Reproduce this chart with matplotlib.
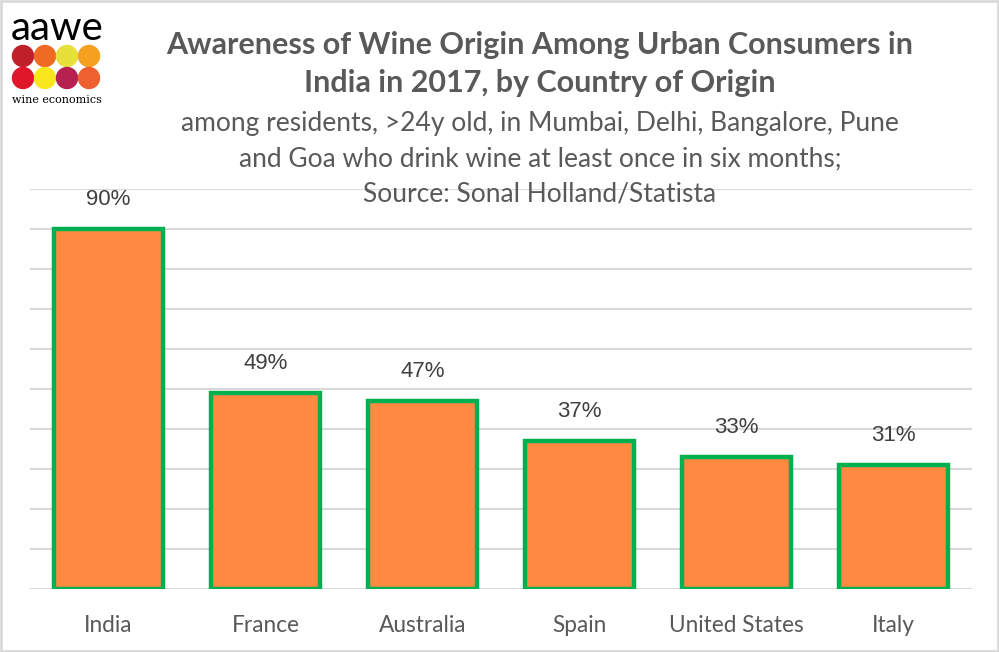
import numpy as np
import matplotlib.pyplot as plt
from matplotlib.patches import Ellipse, Rectangle

# data
countries = ['India', 'France', 'Australia', 'Spain', 'United States', 'Italy']
awareness = [90, 49, 47, 37, 33, 31]

title_lines = ['Awareness of Wine Origin Among Urban Consumers in',
               'India in 2017, by Country of Origin']
subtitle_lines = ['among residents, >24y old, in Mumbai, Delhi, Bangalore, Pune',
                  'and Goa who drink wine at least once in six months;',
                  'Source: Sonal Holland/Statista']

logo_colours = ['#C0202A', '#EE6A25', '#E8E03A', '#F5A01F',
                '#E0162B', '#F8E71C', '#B52150', '#EE6030']

fig = plt.figure(figsize=(9.99, 6.52), dpi=100)
W, H = 999, 652

ax = fig.add_axes([30 / W, 1 - 589 / H, 942 / W, 400 / H])
x = np.arange(len(countries))
bars = ax.bar(x, awareness, width=0.69, color='#FD8A40', edgecolor='#00B050', linewidth=3.2, zorder=3)

ax.set_xlim(-0.5, len(countries) - 0.5)
ax.set_ylim(0, 100)
ax.set_yticks(np.arange(0, 101, 10))
ax.yaxis.grid(True, color='#D9D9D9', linewidth=1.5, zorder=0)
ax.tick_params(axis='y', left=False, labelleft=False)
ax.tick_params(axis='x', length=0, pad=19, labelsize=16.3, labelcolor='#595959')
ax.set_xticks(x)
ax.set_xticklabels(countries, fontfamily='Lato')
for s in ax.spines.values():
    s.set_visible(False)

for xi, v in zip(x, awareness):
    ax.annotate(f'{v}%', (xi, v), xytext=(0, 14), textcoords='offset points',
                ha='center', va='bottom', fontsize=16, color='#404040', fontfamily='Liberation Sans')

# titles
fig.text(540 / W, 1 - 45 / H, title_lines[0], ha='center', va='center', fontsize=22,
         fontweight='bold', color='#595959', fontfamily='Lato')
fig.text(540 / W, 1 - 83 / H, title_lines[1], ha='center', va='center', fontsize=22,
         fontweight='bold', color='#595959', fontfamily='Lato')
for i, line in enumerate(subtitle_lines):
    fig.text(540 / W, 1 - (124 + 35 * i) / H, line, ha='center', va='center', fontsize=19,
             color='#595959', fontfamily='Lato')

# logo
fig.text(11 / W, 1 - 28 / H, 'aawe', ha='left', va='center', fontsize=29, color='black',
         fontfamily='Lato')
centres_x = [23, 45, 67, 89]
for i, c in enumerate(logo_colours):
    cx = centres_x[i % 4]
    cy = 56 if i < 4 else 78
    fig.patches.append(Ellipse((cx / W, 1 - cy / H), 21 / W, 21 / H, transform=fig.transFigure,
                               color=c, figure=fig))
fig.text(12 / W, 1 - 100 / H, 'wine economics', ha='left', va='center', fontsize=8,
         color='black', fontfamily='DejaVu Serif')

# frame around the image
fig.patches.append(Rectangle((0.001, 0.0015), 0.998, 0.997, transform=fig.transFigure,
                             fill=False, edgecolor='#D9D9D9', linewidth=2, figure=fig))

fig.savefig('out.png', dpi=100)
